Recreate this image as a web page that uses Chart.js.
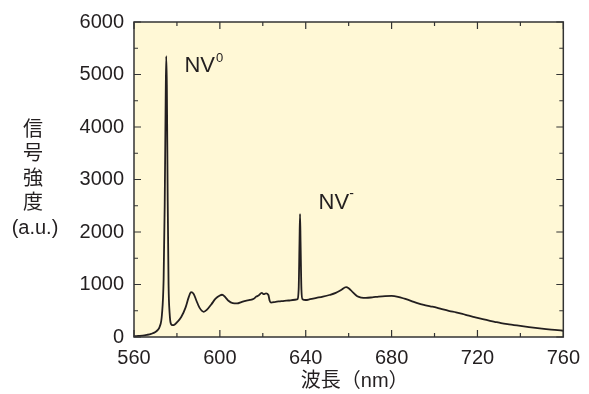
<!DOCTYPE html>
<html>
<head>
<meta charset="utf-8">
<script src="https://cdn.jsdelivr.net/npm/chart.js@4.4.1/dist/chart.umd.min.js"></script>
<style>
  html, body { margin: 0; padding: 0; background: #fff; }
</style>
</head>
<body>
<canvas id="myChart" width="589" height="394"></canvas>
<script>
// spectrum (nm, a.u.)
const wavelengths = [560, 562, 564, 566, 568, 570, 571, 572, 573, 573.8, 574.3, 574.7, 575.0, 575.3, 575.7, 576.1, 576.6, 577.2, 578, 579,
  580, 582, 584, 585.5, 586.6, 587.8, 589, 590.5, 592.5, 594, 596, 598, 600, 601, 602.5, 604, 606, 608, 610, 612,
  614, 615.8, 617, 618, 619.5, 620.5, 621.5, 622.6, 623.2, 623.8, 626, 628, 630, 632, 634, 636, 636.7, 637.1, 637.35, 637.6,
  638, 638.5, 640, 642, 645, 648, 651, 654, 656.5, 658.8, 660, 662, 664, 666, 668, 671, 674, 677, 680, 683,
  686, 689, 692, 695, 698, 701, 704, 707, 710, 713, 716, 719, 722, 725, 728, 731, 734, 737, 740, 744,
  748, 752, 756, 760];
const intensity = [15, 20, 25, 40, 60, 95, 130, 200, 420, 1100, 2500, 4300, 5350, 4800, 2600, 1000, 450, 250, 225, 240,
  280, 380, 560, 760, 855, 820, 700, 560, 480, 520, 620, 730, 790, 805, 760, 690, 645, 640, 665, 690,
  705, 730, 770, 790, 840, 815, 830, 800, 690, 655, 670, 680, 690, 695, 705, 715, 900, 1800, 2340, 1800,
  900, 720, 705, 720, 745, 770, 800, 840, 895, 950, 930, 850, 775, 750, 745, 755, 770, 780, 782, 765,
  730, 690, 645, 610, 585, 560, 525, 495, 470, 440, 405, 375, 345, 315, 290, 265, 245, 228, 210, 188,
  168, 150, 135, 119];

const xMin = 560, xMax = 760, xStep = 20, xLabelEvery = 40;
const yMin = 0, yMax = 6000, yStep = 500, yLabelEvery = 1000;

const ink = '#231f20';
const latin = '"Liberation Sans", Arial, "Noto Sans CJK JP", sans-serif';

// pale yellow plot area, frame, inside ticks and labels
const framePlugin = {
  id: 'frame',
  beforeDraw(chart) {
    const { ctx, chartArea: a } = chart;
    ctx.save();
    ctx.fillStyle = '#fff8d6';
    ctx.fillRect(a.left, a.top, a.right - a.left, a.bottom - a.top);
    ctx.restore();
  },
  afterDraw(chart) {
    const { ctx, chartArea: a, scales } = chart;
    const xs = scales.x, ys = scales.y;
    ctx.save();
    ctx.strokeStyle = '#333';
    ctx.lineWidth = 1.5;
    ctx.strokeRect(a.left, a.top, a.right - a.left, a.bottom - a.top);

    ctx.lineWidth = 1.2;
    ctx.beginPath();
    xs.ticks.forEach(t => {
      const px = xs.getPixelForValue(t.value);
      const len = t.value % xLabelEvery === 0 ? 7 : 4;
      ctx.moveTo(px, a.bottom); ctx.lineTo(px, a.bottom - len);
      ctx.moveTo(px, a.top); ctx.lineTo(px, a.top + len);
    });
    ys.ticks.forEach(t => {
      const py = ys.getPixelForValue(t.value);
      const len = t.value % yLabelEvery === 0 ? 7 : 4;
      ctx.moveTo(a.left, py); ctx.lineTo(a.left + len, py);
      ctx.moveTo(a.right, py); ctx.lineTo(a.right - len, py);
    });
    ctx.stroke();

    ctx.fillStyle = ink;
    ctx.textBaseline = 'alphabetic';
    ctx.textAlign = 'left';

    // NV0 label
    let px = xs.getPixelForValue(583.5), py = ys.getPixelForValue(5050);
    ctx.font = '22px ' + latin;
    ctx.fillText('NV', px, py);
    let w = ctx.measureText('NV').width;
    ctx.font = '13px ' + latin;
    ctx.fillText('0', px + w + 1, py - 10);

    // NV- label
    px = xs.getPixelForValue(646); py = ys.getPixelForValue(2436);
    ctx.font = '22px ' + latin;
    ctx.fillText('NV', px, py);
    w = ctx.measureText('NV').width;
    ctx.font = '14px ' + latin;
    ctx.fillText('-', px + w, py - 11);

    // axis titles
    ctx.font = '20px ' + latin;
    ctx.textAlign = 'center';
    ctx.textBaseline = 'middle';
    ctx.fillText('波長（nm）', (a.left + a.right) / 2 + 6, 381);
    ['信', '号', '強', '度'].forEach((c, i) => ctx.fillText(c, 33, 130 + i * 24.5));
    ctx.fillText('(a.u.)', 35, 228);
    ctx.restore();
  }
};

new Chart(document.getElementById('myChart'), {
  type: 'line',
  data: {
    datasets: [{
      data: wavelengths.map((x, i) => ({ x: x, y: intensity[i] })),
      borderColor: ink,
      borderWidth: 1.8,
      pointRadius: 0,
      cubicInterpolationMode: 'monotone',
      fill: false
    }]
  },
  options: {
    responsive: false,
    animation: false,
    devicePixelRatio: 1,
    layout: { padding: { left: 0, right: 21, top: 20, bottom: 0 } },
    plugins: { legend: { display: false }, tooltip: { enabled: false } },
    scales: {
      x: {
        type: 'linear',
        min: xMin, max: xMax,
        grid: { display: false, drawTicks: false },
        border: { display: false },
        afterFit(s) { s.height = 57; },
        ticks: {
          stepSize: xStep,
          autoSkip: false,
          maxRotation: 0,
          padding: 9,
          color: ink,
          font: { family: latin, size: 20 },
          callback: v => (v % xLabelEvery === 0 ? v : '')
        }
      },
      y: {
        min: yMin, max: yMax,
        grid: { display: false, drawTicks: false },
        border: { display: false },
        afterFit(s) { s.width = 134; },
        ticks: {
          stepSize: yStep,
          autoSkip: false,
          padding: 10,
          color: ink,
          font: { family: latin, size: 20 },
          callback: v => (v % yLabelEvery === 0 ? v : '')
        }
      }
    }
  },
  plugins: [framePlugin]
});
</script>
</body>
</html>
